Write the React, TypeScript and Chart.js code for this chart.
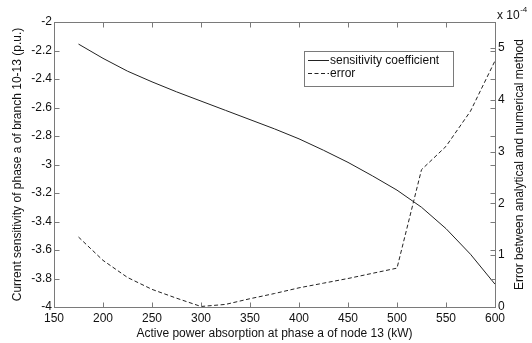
import React, { useEffect, useRef } from "react";
import { Chart, registerables } from "chart.js";

Chart.register(...registerables);

// ---- data ----
const powerKW = [175, 200, 225, 250, 275, 300, 325, 350, 375, 400, 425, 450, 475, 500, 525, 550, 575, 600];
const sensitivity = [-2.155, -2.255, -2.345, -2.42, -2.49, -2.555, -2.62, -2.685, -2.75, -2.82, -2.9, -2.985, -3.08, -3.18, -3.3, -3.45, -3.63, -3.84];
// error in units of 1e-4
const errorE4 = [1.35, 0.9, 0.57, 0.34, 0.17, 0.01, 0.05, 0.16, 0.26, 0.37, 0.46, 0.55, 0.65, 0.75, 2.65, 3.1, 3.78, 4.75];

const xTicks = [150, 200, 250, 300, 350, 400, 450, 500, 550, 600];
const leftTicks = [-4, -3.8, -3.6, -3.4, -3.2, -3, -2.8, -2.6, -2.4, -2.2, -2];
const rightTicks = [0, 1, 2, 3, 4, 5];

const xTitle = "Active power absorption at phase a of node 13 (kW)";
const leftTitle = "Current sensitivity of phase a of branch 10-13 (p.u.)";
const rightTitle = "Error between analytical and numerical method";
const seriesNames = ["sensitivity coefficient", "error"];

const FONT = "'Liberation Sans', Arial, sans-serif";
const AXIS_COLOR = "#7a7a7a";
const TEXT_COLOR = "#111";

const fmt = (v: number) => String(Math.round(v * 10) / 10);

const decorPlugin = {
  id: "decor",
  afterDraw(chart: any) {
    const { ctx, chartArea } = chart;
    const { left, right, top, bottom } = chartArea;
    const xs = chart.scales.x;
    const ys = chart.scales.y;
    const y1 = chart.scales.y1;
    const TL = 5;
    ctx.save();
    ctx.strokeStyle = AXIS_COLOR;
    ctx.lineWidth = 1;
    ctx.setLineDash([]);
    ctx.strokeRect(left + 0.5, top + 0.5, right - left, bottom - top);
    ctx.beginPath();
    xTicks.forEach((v) => {
      const px = Math.round(xs.getPixelForValue(v)) + 0.5;
      ctx.moveTo(px, bottom + 0.5);
      ctx.lineTo(px, bottom + 0.5 - TL);
      ctx.moveTo(px, top + 0.5);
      ctx.lineTo(px, top + 0.5 + TL);
    });
    leftTicks.forEach((v) => {
      const py = Math.round(ys.getPixelForValue(v)) + 0.5;
      ctx.moveTo(left + 0.5, py);
      ctx.lineTo(left + 0.5 + TL, py);
      ctx.moveTo(right + 0.5, py);
      ctx.lineTo(right + 0.5 - TL, py);
    });
    rightTicks.forEach((v) => {
      const py = Math.round(y1.getPixelForValue(v)) + 0.5;
      ctx.moveTo(right + 0.5, py);
      ctx.lineTo(right + 0.5 - TL, py);
    });
    ctx.stroke();

    // right title, reading bottom to top
    ctx.fillStyle = TEXT_COLOR;
    ctx.font = `12px ${FONT}`;
    ctx.save();
    ctx.translate(520, (top + bottom) / 2);
    ctx.rotate(-Math.PI / 2);
    ctx.textAlign = "center";
    ctx.textBaseline = "middle";
    ctx.fillText(rightTitle, 0, 0);
    ctx.restore();

    // multiplier
    ctx.textAlign = "left";
    ctx.textBaseline = "alphabetic";
    ctx.font = `12px ${FONT}`;
    ctx.fillText("x 10", 497, 19);
    const w = ctx.measureText("x 10").width;
    ctx.font = `8px ${FONT}`;
    ctx.fillText("-4", 497 + w + 0.5, 12);

    // legend
    const lx = 304, ly = 51, lw = 149, lh = 35;
    ctx.fillStyle = "#fff";
    ctx.fillRect(lx, ly, lw, lh);
    ctx.strokeStyle = AXIS_COLOR;
    ctx.strokeRect(lx + 0.5, ly + 0.5, lw, lh);
    const rows = [60.5, 73.5];
    chart.data.datasets.forEach((ds: any, i: number) => {
      ctx.strokeStyle = ds.borderColor;
      ctx.lineWidth = ds.borderWidth;
      ctx.setLineDash(ds.borderDash || []);
      ctx.beginPath();
      ctx.moveTo(lx + 4, rows[i]);
      ctx.lineTo(lx + 25, rows[i]);
      ctx.stroke();
      ctx.setLineDash([]);
      ctx.fillStyle = TEXT_COLOR;
      ctx.font = `12px ${FONT}`;
      ctx.textBaseline = "middle";
      ctx.fillText(ds.label, lx + 26, rows[i] + 0.5);
    });
    ctx.restore();
  },
};

export default function App() {
  const ref = useRef<HTMLCanvasElement | null>(null);
  useEffect(() => {
    document.body.style.margin = "0";
    const canvas = ref.current;
    if (!canvas) return;
    const chart = new Chart(canvas, {
      type: "line",
      data: {
        datasets: [
          {
            label: seriesNames[0],
            data: powerKW.map((x, i) => ({ x, y: sensitivity[i] })),
            borderColor: "#222",
            borderWidth: 1,
            pointRadius: 0,
            tension: 0,
            yAxisID: "y",
          },
          {
            label: seriesNames[1],
            data: powerKW.map((x, i) => ({ x, y: errorE4[i] })),
            borderColor: "#222",
            borderWidth: 1,
            borderDash: [4, 2.5],
            pointRadius: 0,
            tension: 0,
            yAxisID: "y1",
          },
        ],
      },
      options: {
        animation: false,
        responsive: false,
        devicePixelRatio: 1,
        layout: { padding: { top: 22, left: 0, right: 0, bottom: 0 } },
        plugins: { legend: { display: false }, tooltip: { enabled: false } },
        scales: {
          x: {
            type: "linear",
            min: 150,
            max: 600,
            afterBuildTicks: (s: any) => {
              s.ticks = xTicks.map((v) => ({ value: v }));
            },
            afterFit: (s: any) => {
              s.height = 36;
            },
            grid: { display: false, drawTicks: false },
            border: { display: false },
            ticks: {
              font: { family: FONT, size: 12 },
              color: TEXT_COLOR,
              padding: 4,
              maxRotation: 0,
              autoSkip: false,
            },
            title: {
              display: true,
              text: xTitle,
              font: { family: FONT, size: 12 },
              color: TEXT_COLOR,
              padding: { top: 0, bottom: 2 },
            },
          },
          y: {
            type: "linear",
            position: "left",
            min: -4,
            max: -2,
            afterBuildTicks: (s: any) => {
              s.ticks = leftTicks.map((v) => ({ value: v }));
            },
            afterFit: (s: any) => {
              s.width = 54;
            },
            grid: { display: false, drawTicks: false },
            border: { display: false },
            ticks: {
              font: { family: FONT, size: 12 },
              color: TEXT_COLOR,
              padding: 2,
              autoSkip: false,
              callback: (v: any) => fmt(Number(v)),
            },
            title: {
              display: true,
              text: leftTitle,
              font: { family: FONT, size: 12 },
              color: TEXT_COLOR,
              padding: { top: 10, bottom: 0 },
            },
          },
          y1: {
            type: "linear",
            position: "right",
            min: 0,
            max: 5.5,
            afterBuildTicks: (s: any) => {
              s.ticks = rightTicks.map((v) => ({ value: v }));
            },
            afterFit: (s: any) => {
              s.width = 37;
            },
            grid: { display: false, drawTicks: false },
            border: { display: false },
            ticks: {
              font: { family: FONT, size: 12 },
              color: TEXT_COLOR,
              padding: 3,
              autoSkip: false,
              callback: (v: any) => fmt(Number(v)),
            },
          },
        },
      },
      plugins: [decorPlugin],
    });
    return () => chart.destroy();
  }, []);
  return (
    <div style={{ width: 532, height: 343, background: "#fff" }}>
      <canvas ref={ref} width={532} height={343} style={{ display: "block" }} />
    </div>
  );
}
